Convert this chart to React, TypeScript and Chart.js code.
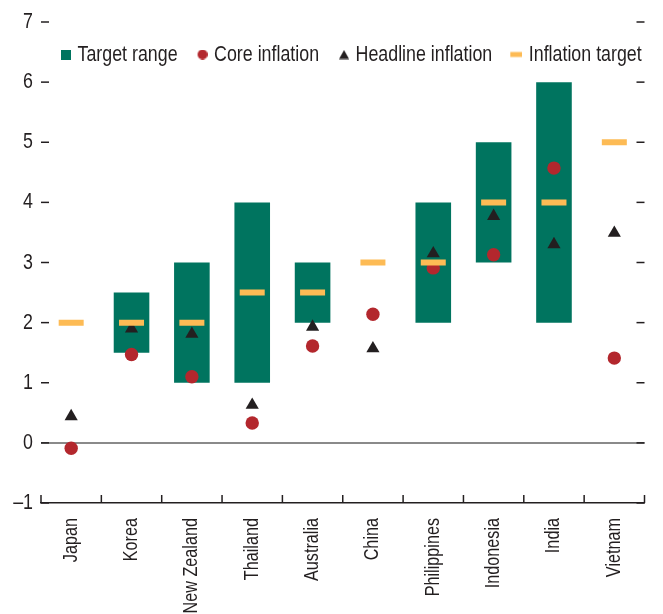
import React, { useEffect, useRef } from "react";
import { Chart, registerables } from "chart.js";

Chart.register(...registerables);

const categories = ["Japan", "Korea", "New Zealand", "Thailand", "Australia", "China", "Philippines", "Indonesia", "India", "Vietnam"];
const targetLow: (number | null)[] = [null, 1.5, 1, 1, 2, null, 2, 3, 2, null];
const targetHigh: (number | null)[] = [null, 2.5, 3, 4, 3, null, 4, 5, 6, null];
const coreInflation = [-0.09, 1.47, 1.1, 0.33, 1.61, 2.14, 2.91, 3.13, 4.57, 1.41];
const headlineInflation = [0.44, 1.9, 1.81, 0.63, 1.93, 1.57, 3.15, 3.77, 3.3, 3.49];
const inflationTarget = [2, 2, 2, 2.5, 2.5, 3, 3, 4, 4, 5];
const seriesNames = ["Target range", "Core inflation", "Headline inflation", "Inflation target"];
const yMin = -1;
const yMax = 7;

const TEAL = "#00745f";
const RED = "#b3272d";
const BLACK = "#231f20";
const ORANGE = "#fdbb55";
const FONT = '"Liberation Sans", Arial, sans-serif';
const NARROW = 0.81;

// Narrow (condensed) rendering of the sans font, like Arial Narrow
function condense(ctx: any) {
  const origFill = ctx.fillText.bind(ctx);
  const origMeasure = ctx.measureText.bind(ctx);
  ctx.measureText = (t: string) => {
    const m = origMeasure(t);
    return {
      width: m.width * NARROW,
      actualBoundingBoxAscent: m.actualBoundingBoxAscent,
      actualBoundingBoxDescent: m.actualBoundingBoxDescent,
      actualBoundingBoxLeft: m.actualBoundingBoxLeft * NARROW,
      actualBoundingBoxRight: m.actualBoundingBoxRight * NARROW,
      fontBoundingBoxAscent: m.fontBoundingBoxAscent,
      fontBoundingBoxDescent: m.fontBoundingBoxDescent,
    };
  };
  ctx.fillText = (t: string, x: number, y: number, maxW?: number) => {
    const w = origMeasure(t).width * NARROW;
    if (w <= 0) return;
    origFill(t, x, y, maxW !== undefined && maxW !== null ? Math.min(maxW, w) : w);
  };
}

function makeIcon(kind: string): HTMLCanvasElement {
  const c = document.createElement("canvas");
  c.width = 16;
  c.height = 10;
  const g = c.getContext("2d")!;
  if (kind === "square") {
    g.fillStyle = TEAL;
    g.fillRect(6, 0, 10, 10);
  } else if (kind === "circle") {
    g.fillStyle = RED;
    g.beginPath();
    g.arc(11, 5, 5, 0, Math.PI * 2);
    g.fill();
  } else if (kind === "triangle") {
    g.fillStyle = BLACK;
    g.beginPath();
    g.moveTo(11, 0.5);
    g.lineTo(16, 9.5);
    g.lineTo(6, 9.5);
    g.closePath();
    g.fill();
  } else {
    g.fillStyle = ORANGE;
    g.fillRect(4, 2.5, 12, 5);
  }
  return c;
}

const inwardTicks = {
  id: "inwardTicks",
  afterInit(chart: any) {
    // lay the in-plot legend out as a single horizontal row inside the plot area
    const leg = chart.legend;
    if (!leg) return;
    leg.isHorizontal = () => true;
    const origSet = leg.setDimensions.bind(leg);
    leg.setDimensions = () => {
      origSet();
      const a = chart.chartArea;
      if (a) {
        leg.maxWidth = a.right - a.left + 80;
        leg.width = leg.maxWidth;
        leg.left = a.left;
        leg.right = a.left + leg.width;
      }
    };
  },
  beforeDatasetsDraw(chart: any) {
    const { ctx, chartArea: a, scales } = chart;
    const x = scales.x;
    const y = scales.y;
    ctx.save();
    ctx.strokeStyle = BLACK;
    ctx.lineWidth = 1.5;
    const line = (x1: number, y1: number, x2: number, y2: number) => {
      ctx.beginPath();
      ctx.moveTo(x1, y1);
      ctx.lineTo(x2, y2);
      ctx.stroke();
    };
    y.ticks.forEach((t: any) => {
      const py = y.getPixelForValue(t.value);
      line(a.left, py, a.left + 8, py);
      line(a.right - 8, py, a.right, py);
    });
    for (let i = 0; i <= categories.length; i++) {
      const px = x.getPixelForValue(i - 0.5);
      line(px, a.bottom, px, a.bottom - 8);
    }
    ctx.restore();
  },
};

export default function App() {
  const ref = useRef<HTMLCanvasElement>(null);

  useEffect(() => {
    document.body.style.margin = "0";
    const canvas = ref.current!;
    const ctx = canvas.getContext("2d");
    condense(ctx);
    const icons = [makeIcon("square"), makeIcon("circle"), makeIcon("triangle"), makeIcon("dash")];
    const chart = new Chart(canvas, {
      type: "bar",
      data: {
        labels: categories,
        datasets: [
          {
            type: "bar",
            label: seriesNames[0],
            data: categories.map((_, i) => (targetLow[i] == null ? null : [targetLow[i], targetHigh[i]])) as any,
            backgroundColor: TEAL,
            borderWidth: 0,
            categoryPercentage: 0.59,
            barPercentage: 1,
            order: 4,
          },
          {
            type: "line",
            label: seriesNames[1],
            data: coreInflation,
            showLine: false,
            pointStyle: "circle",
            pointRadius: 6.7,
            pointBackgroundColor: RED,
            pointBorderWidth: 0,
            order: 3,
          },
          {
            type: "line",
            label: seriesNames[2],
            data: headlineInflation,
            showLine: false,
            pointStyle: "triangle",
            pointRadius: 7.6,
            pointBackgroundColor: BLACK,
            pointBorderWidth: 0,
            order: 2,
          },
          {
            type: "line",
            label: seriesNames[3],
            data: inflationTarget,
            showLine: false,
            pointStyle: "line",
            pointRadius: 12.5,
            pointBorderColor: ORANGE,
            pointBorderWidth: 6,
            order: 1,
          },
        ] as any,
      },
      options: {
        animation: false,
        responsive: false,
        devicePixelRatio: 1,
        events: [],
        layout: { padding: { top: 22, left: 0, right: 0, bottom: 0 } },
        plugins: {
          tooltip: { enabled: false },
          legend: {
            position: "chartArea" as any,
            align: "start",
            title: { display: true, text: "", font: { size: 3, lineHeight: 1 }, padding: 0 },
            labels: {
              usePointStyle: true,
              boxWidth: 7,
              boxHeight: 10,
              padding: 18.5,
              color: BLACK,
              font: { family: FONT, size: 22 },
              generateLabels: () =>
                seriesNames.map((name, i) => ({
                  text: name,
                  pointStyle: icons[i],
                  fillStyle: "transparent",
                  strokeStyle: "transparent",
                  lineWidth: 0,
                  hidden: false,
                  datasetIndex: i,
                  fontColor: BLACK,
                })) as any,
            },
          },
        },
        scales: {
          x: {
            grid: { display: false },
            border: { display: true, color: BLACK, width: 1.5 },
            ticks: {
              minRotation: 90,
              maxRotation: 90,
              padding: 7,
              color: BLACK,
              font: { family: FONT, size: 20 },
              autoSkip: false,
            },
            afterFit: (s: any) => {
              s.height = 111;
            },
          },
          y: {
            min: yMin,
            max: yMax,
            border: { display: false },
            grid: {
              drawTicks: false,
              color: (c: any) => (c.tick && c.tick.value === 0 ? "#8a8a8a" : "rgba(0,0,0,0)"),
              lineWidth: (c: any) => (c.tick && c.tick.value === 0 ? 2 : 0),
            },
            ticks: {
              stepSize: 1,
              padding: 8,
              color: BLACK,
              font: { family: FONT, size: 22 },
              callback: (v: any) => (Number(v) < 0 ? "\u2013" + Math.abs(Number(v)) : String(v)),
            },
            afterFit: (s: any) => {
              s.width = 41;
            },
          },
        },
      },
      plugins: [inwardTicks],
    });
    return () => chart.destroy();
  }, []);

  return (
    <div style={{ position: "fixed", left: 0, top: 0, width: 663, height: 614, overflow: "hidden" }}>
      <canvas ref={ref} width={663} height={614} style={{ display: "block" }} />
    </div>
  );
}
